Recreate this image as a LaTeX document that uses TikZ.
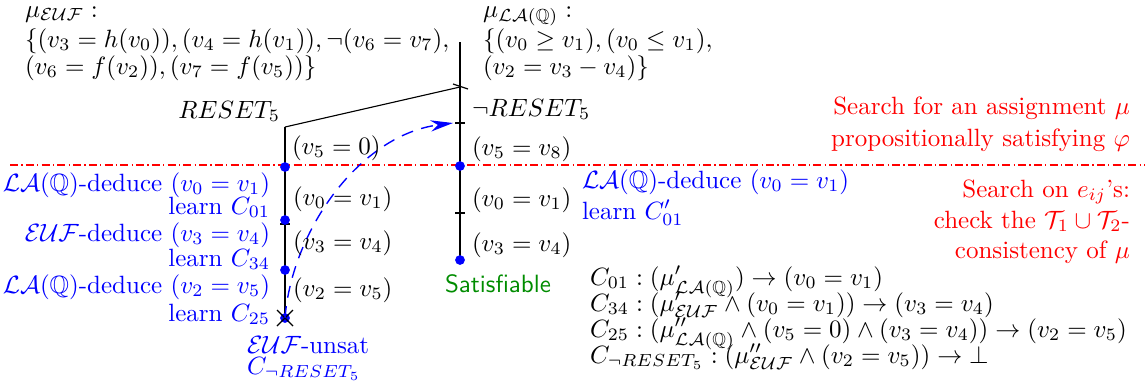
\documentclass[tikz,border=0pt]{standalone}
\usepackage{amsmath,amssymb}
\usetikzlibrary{arrows.meta}
\definecolor{satgreen}{rgb}{0,0.55,0}
\begin{document}
\begin{tikzpicture}[x=0.4pt,y=-0.4pt,
  txt/.style={inner sep=0pt, outer sep=0pt},
  bdot/.style={circle, fill=blue, inner sep=0pt, minimum size=3.9pt},
  tree/.style={line width=0.45pt},
  bluetxt/.style={txt, text=blue},
  redtxt/.style={txt, text=red},
]
\useasboundingbox (0,0) rectangle (1145,389);

% separator line
\coordinate (redL) at (10,165);
\coordinate (redR) at (1145,165);
\draw[red, line width=0.6pt, dash pattern=on 3.2pt off 1.3pt on 0.5pt off 1.3pt] (redL) -- (redR);

% tree points
\coordinate (Rtop) at (460,42);
\coordinate (Rbr) at (460,87);
\coordinate (Rt1) at (460,123);
\coordinate (Rt2) at (460,213);
\coordinate (Ltop) at (285,127);
\coordinate (Lt1) at (285,224);
\coordinate (arrowend) at (453,123);

\draw[tree] (Rtop) -- (460,260);
\draw[tree] (Ltop) -- (Rbr);
\draw[tree] ([shift={(-7,-3)}]Rbr) -- ([shift={(8,2)}]Rbr);
\draw[tree] ([shift={(-5,0)}]Rt1) -- ([shift={(5,0)}]Rt1);
\draw[tree] ([shift={(-5,0)}]Rt2) -- ([shift={(5,0)}]Rt2);
\draw[tree] (Ltop) -- (285,318);
\draw[tree] ([shift={(-5,0)}]Lt1) -- ([shift={(5,0)}]Lt1);

\node[bdot] (Rd1) at (460,166) {};
\node[bdot] (Rd2) at (460,260) {};
\node[bdot] (Ld1) at (285,167) {};
\node[bdot] (Ld2) at (285,220) {};
\node[bdot] (Ld3) at (285,270) {};
\node[bdot] (Ld4) at (285,318) {};
\draw[tree] ([shift={(-8,-8)}]Ld4.center) -- ([shift={(8,8)}]Ld4.center);
\draw[tree] ([shift={(-8,8)}]Ld4.center) -- ([shift={(8,-8)}]Ld4.center);

% backjump arrow
\draw[blue, line width=0.55pt, dash pattern=on 4.8pt off 3.4pt,
  -{Stealth[length=9pt,width=4.5pt]}]
  (Ld4.center) .. controls (292,230) and (360,135) .. (arrowend);

% top formulas
\node[txt, anchor=base west] (me1) at (25,17) {$\mu_{\mathcal{EUF}}:$};
\node[txt, anchor=base west] (me2) at (25,47) {$\{(v_3 = h(v_0)), (v_4 = h(v_1)), \neg(v_6 = v_7),$};
\node[txt, anchor=base west] (me3) at (25,74) {$(v_6 = f(v_2)), (v_7 = f(v_5))\}$};
\node[txt, anchor=base west] (ml1) at (483,17) {$\mu_{\mathcal{LA}(\mathbb{Q})}:$};
\node[txt, anchor=base west] (ml2) at (483,47) {$\{(v_0 \geq v_1), (v_0 \leq v_1),$};
\node[txt, anchor=base west] (ml3) at (483,74) {$(v_2 = v_3 - v_4)\}$};

% tree labels
\node[txt, anchor=base east] (reset) at (280,118) {$RESET_5$};
\node[txt, anchor=base west] (nreset) at (472,116) {$\neg RESET_5$};
\node[txt, anchor=base west] (l50) at (292,154) {$(v_5 = 0)$};
\node[txt, anchor=base west] (r58) at (472,155) {$(v_5 = v_8)$};
\node[txt, anchor=base west] (l01) at (293,205) {$(v_0 = v_1)$};
\node[txt, anchor=base west] (r01) at (472,206) {$(v_0 = v_1)$};
\node[txt, anchor=base west] (l34) at (293,249) {$(v_3 = v_4)$};
\node[txt, anchor=base west] (r34) at (472,251) {$(v_3 = v_4)$};
\node[txt, anchor=base west] (l25) at (293,296) {$(v_2 = v_5)$};
\node[txt, anchor=base, text=satgreen, font=\sffamily] (sat) at (498,292) {Satisfiable};

% blue left labels
\node[bluetxt, anchor=base east] (b1) at (270,191) {$\mathcal{LA}(\mathbb{Q})$-deduce $(v_0 = v_1)$};
\node[bluetxt, anchor=base east] (b2) at (270,214) {learn $C_{01}$};
\node[bluetxt, anchor=base east] (b3) at (270,241) {$\mathcal{EUF}$-deduce $(v_3 = v_4)$};
\node[bluetxt, anchor=base east] (b4) at (270,266) {learn $C_{34}$};
\node[bluetxt, anchor=base east] (b5) at (270,293) {$\mathcal{LA}(\mathbb{Q})$-deduce $(v_2 = v_5)$};
\node[bluetxt, anchor=base east] (b6) at (270,321) {learn $C_{25}$};
\node[bluetxt, anchor=base west] (b7) at (247,353) {$\mathcal{EUF}$-unsat};
\node[bluetxt, anchor=base west] (b8) at (247,374) {$C_{\neg RESET_5}$};

% blue right labels
\node[bluetxt, anchor=base west] (c1) at (582,188) {$\mathcal{LA}(\mathbb{Q})$-deduce $(v_0 = v_1)$};
\node[bluetxt, anchor=base west] (c2) at (582,219) {learn $C'_{01}$};

% red comments
\node[redtxt, anchor=base east] (s1) at (1130,114) {Search for an assignment $\mu$};
\node[redtxt, anchor=base east] (s2) at (1130,146) {propositionally satisfying $\varphi$};
\node[redtxt, anchor=base east] (s3) at (1130,197) {Search on $e_{ij}$'s:};
\node[redtxt, anchor=base east] (s4) at (1130,228) {check the $\mathcal{T}_1 \cup \mathcal{T}_2$-};
\node[redtxt, anchor=base east] (s5) at (1130,258) {consistency of $\mu$};

% learned clauses
\node[txt, anchor=base west] (e1) at (590,285) {$C_{01} : (\mu'_{\mathcal{LA}(\mathbb{Q})}) \rightarrow (v_0 = v_1)$};
\node[txt, anchor=base west] (e2) at (590,311) {$C_{34} : (\mu'_{\mathcal{EUF}} \wedge (v_0 = v_1)) \rightarrow (v_3 = v_4)$};
\node[txt, anchor=base west] (e3) at (590,337) {$C_{25} : (\mu''_{\mathcal{LA}(\mathbb{Q})} \wedge (v_5 = 0) \wedge (v_3 = v_4)) \rightarrow (v_2 = v_5)$};
\node[txt, anchor=base west] (e4) at (590,363) {$C_{\neg RESET_5} : (\mu''_{\mathcal{EUF}} \wedge (v_2 = v_5)) \rightarrow \bot$};
\end{tikzpicture}
\end{document}
